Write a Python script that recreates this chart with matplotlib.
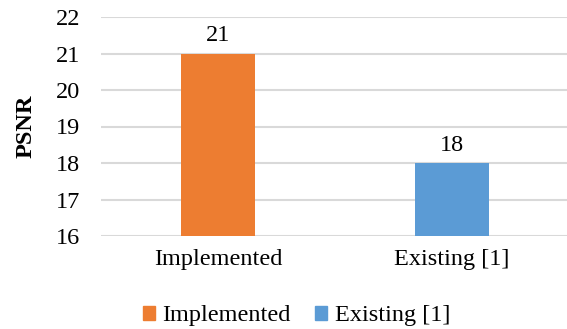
import matplotlib.pyplot as plt

categories = ['Implemented', 'Existing [1]']
psnr = [21, 18]
colors = ['#ED7D31', '#5B9BD5']

plt.rcParams['font.family'] = ['Liberation Serif', 'DejaVu Serif']
fs = 17.5

fig = plt.figure(figsize=(5.67, 3.29), dpi=100)
ax = fig.add_axes([101 / 567, 1 - 236 / 329, 468 / 567, 219 / 329])

x = range(len(categories))
ax.bar(x, psnr, width=0.316, color=colors, zorder=3)
for xi, v in zip(x, psnr):
    ax.text(xi, v + 0.2, str(v), ha='center', va='bottom', fontsize=fs)

ax.set_xlim(-0.5, 1.5)
ax.set_ylim(16, 22)
ax.set_yticks(range(16, 23))
ax.yaxis.grid(True, color='#D9D9D9', linewidth=1.5, zorder=0)
ax.set_xticks(list(x))
ax.set_xticklabels(categories, fontsize=fs)
ax.tick_params(axis='y', labelsize=fs, length=0, pad=15)
ax.tick_params(axis='x', length=0, pad=9)
for s in ax.spines.values():
    s.set_visible(False)
ax.set_ylabel('PSNR', fontsize=fs, fontweight='bold', labelpad=14)

handles = [plt.Rectangle((0, 0), 1, 1, color=c) for c in colors]
fig.legend(handles, categories, loc='center', bbox_to_anchor=(0.523, 1 - 316 / 329),
           ncol=2, frameon=False, fontsize=fs, handlelength=0.5, handleheight=0.5,
           handletextpad=0.3, columnspacing=1.0)

fig.savefig('out.png', dpi=100)
